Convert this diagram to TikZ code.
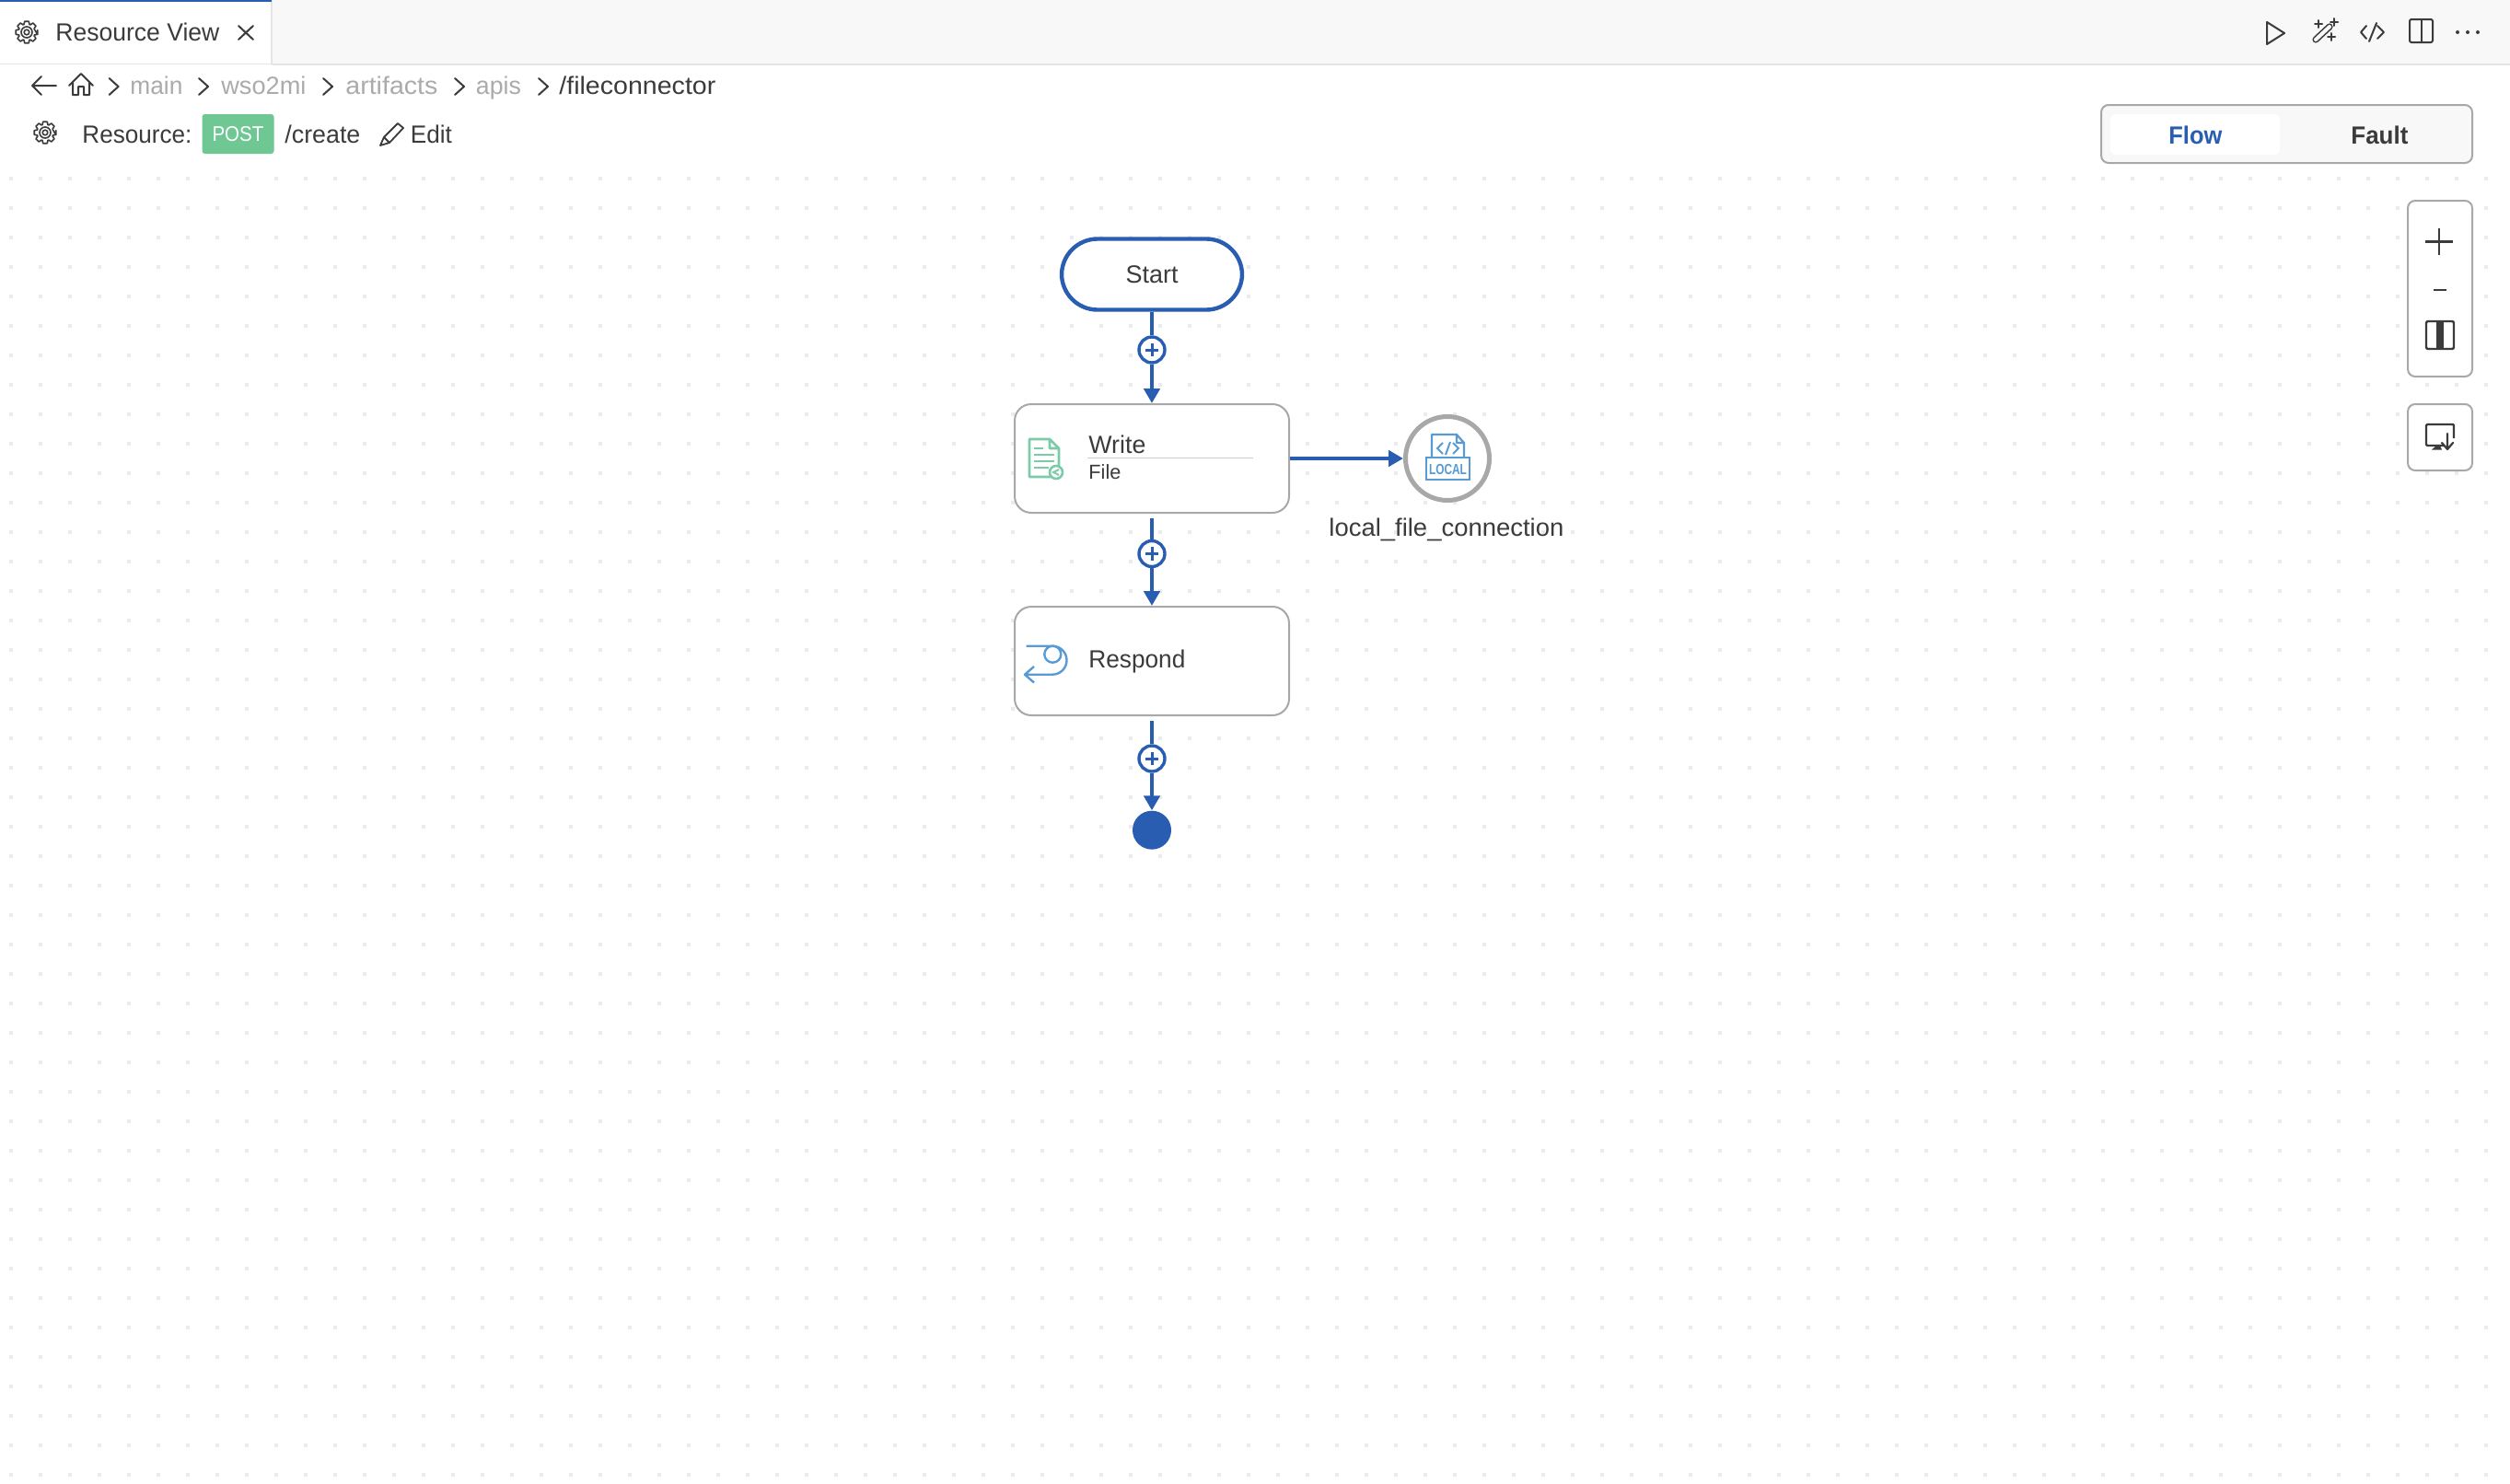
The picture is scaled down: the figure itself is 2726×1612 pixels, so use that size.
\documentclass[tikz,border=0pt]{standalone}
\usepackage{graphicx}
\usepackage{fontspec}
\setmainfont{Liberation Sans}
\usetikzlibrary{arrows.meta}
\definecolor{flowblue}{HTML}{285DB1}
\definecolor{ink}{HTML}{3B3B3B}
\definecolor{dimgrey}{HTML}{ABABAB}
\definecolor{frame}{HTML}{A8A8A8}
\definecolor{barbg}{HTML}{F8F8F8}
\definecolor{barline}{HTML}{E5E5E5}
\definecolor{griddot}{HTML}{E9ECEF}
\definecolor{postgreen}{HTML}{6FC794}
\definecolor{mint}{HTML}{7CCBA8}
\definecolor{skyblue}{HTML}{569BD6}
\newcommand\wtext[3]{\resizebox{\dimexpr#1pt/2\relax}{\height}{\fontsize{#2}{#2}\selectfont #3}}
\newcommand\gearmark[2]{%
  \begin{scope}[shift={(#1,#2)}]
    \draw[line width=.8pt,ink,line join=round] (12:12)
      \foreach \a in {0,45,...,315}{ -- ({\a-11}:12) -- ({\a+11}:12) -- ({\a+19}:9) -- ({\a+26}:9)} -- cycle;
    \draw[line width=.8pt,ink] (0,0) circle (6) (0,0) circle (2.8);
  \end{scope}}
\newcommand\chevronmark[1]{\draw[iconline] (#1-5,85) -- (#1+5,94) -- (#1-5,103);}
\tikzset{
  x=.5pt,y=-.5pt,
  iconline/.style={draw=ink,line width=1pt,line join=round,line cap=round},
  lbl/.style={anchor=base west,inner sep=0pt,text=ink},
  dim/.style={lbl,text=dimgrey},
  stepbox/.style={draw=frame,line width=1pt,fill=white,rounded corners=9pt,minimum width=149pt,minimum height=59pt,inner sep=0pt},
  startbox/.style={draw=flowblue,line width=2.2pt,fill=white,rounded corners=19.5pt,minimum width=98pt,minimum height=38.5pt,inner sep=0pt,text=ink,font=\fontsize{13.5}{13.5}\selectfont},
  addbtn/.style={circle,draw=flowblue,line width=1.7pt,fill=white,minimum size=14pt,inner sep=0pt},
  flowline/.style={draw=flowblue,line width=2.3pt},
  flowarrow/.style={flowline,-{Triangle[length=8pt,width=8.6pt]}},
  panel/.style={draw=frame,line width=1pt,fill=white,rounded corners=4pt},
}
\begin{document}
\begin{tikzpicture}
\useasboundingbox (0,0) rectangle (2726,1612);
\fill[white] (0,0) rectangle (2726,1612);
% grid of dots
\foreach \gy in {194,226,...,1604}{
  \fill[griddot] \foreach \gx in {12,44,...,2716}{ (\gx-2,\gy-2) rectangle (\gx+2,\gy+2) };
}
% tab bar
\fill[barbg] (295,0) rectangle (2726,69);
\draw[barline,line width=1pt] (295,69.5) -- (2726,69.5);
\draw[barline,line width=.4pt] (0,69.5) -- (295,69.5);
\draw[barline,line width=1pt] (295,0) -- (295,69);
\fill[flowblue] (0,0) rectangle (295,2);
\gearmark{29}{35}
\node[lbl] (tabtitle) at (60,44) {\wtext{178}{13.5}{Resource View}};
\draw[iconline] (259,28) -- (275,43) (275,28) -- (259,43);
% toolbar icons
\draw[iconline] (2462,24) -- (2481,36) -- (2462,48) -- cycle;
\draw[ink,line width=3.6pt,line cap=round] (2515,43) -- (2530,29);
\draw[barbg,line width=2pt,line cap=round] (2515,43) -- (2530,29);
\draw[iconline] (2514,26) -- (2522,26) (2518,22) -- (2518,30)
  (2531,24) -- (2539,24) (2535,20) -- (2535,28)
  (2528,40) -- (2536,40) (2532,36) -- (2532,44);
\draw[iconline] (2570,28) -- (2564,35) -- (2570,42) (2581,25) -- (2573,45) (2582,28) -- (2589,35) -- (2582,42);
\draw[iconline,rounded corners=1pt] (2617,21) rectangle (2642,46);
\draw[iconline] (2629.5,21) -- (2629.5,46);
\fill[ink] (2669,35) circle (2) (2680,35) circle (2) (2691,35) circle (2);
% breadcrumb
\draw[iconline] (61,93) -- (35,93) (45,83) -- (35,93) -- (45,103);
\draw[iconline] (75,93) -- (88,80) -- (101,93) (79,90) -- (79,103) -- (85,103) -- (85,94) -- (91,94) -- (91,103) -- (97,103) -- (97,90);
\chevronmark{123.6}
\chevronmark{221}
\chevronmark{356}
\chevronmark{499}
\chevronmark{590}
\node[dim] (crumbmain) at (141,102) {\wtext{57}{13.5}{main}};
\node[dim] (crumbwso) at (240,102) {\wtext{92}{13.5}{wso2mi}};
\node[dim] (crumbart) at (375,102) {\wtext{100}{13.5}{artifacts}};
\node[dim] (crumbapis) at (516.5,102) {\wtext{49}{13.5}{apis}};
\node[lbl] (crumbfile) at (607,102) {\wtext{170}{13.5}{/fileconnector}};
% resource row
\gearmark{49}{144}
\node[lbl] (reslabel) at (89,155.5) {\wtext{119}{13.5}{Resource:}};
\node[fill=postgreen,rounded corners=1.5pt,minimum width=39pt,minimum height=21.5pt,inner sep=0pt,text=white] (postbadge) at (258.5,145.5) {\wtext{56}{11.5}{POST}};
\node[lbl] (respath) at (309,155.5) {\wtext{82}{13.5}{/create}};
\draw[iconline,line width=.9pt] (413,158) -- (417,149) -- (432,134) -- (438,139) -- (423,155) -- cycle (417,149) -- (423,155);
\node[lbl] (resedit) at (445.5,155.5) {\wtext{45}{13.5}{Edit}};
% Flow / Fault toggle
\draw[panel,fill=barbg] (2282,114) rectangle (2685,177);
\node[fill=white,rounded corners=3pt,minimum width=92pt,minimum height=22pt,inner sep=0pt] (flowtab) at (2384,146) {};
\node[lbl,text=flowblue] (flowtext) at (2355,156) {\wtext{58}{13.5}{\bfseries Flow}};
\node[lbl] (faulttext) at (2553,156) {\wtext{62}{13.5}{\bfseries Fault}};
% zoom controls
\draw[panel] (2615,218) rectangle (2685,409);
\draw[ink,line width=1.3pt] (2634,262.5) -- (2664,262.5) (2649,248) -- (2649,277);
\draw[ink,line width=1.3pt] (2643,315) -- (2657,315);
\draw[ink,line width=1.2pt,rounded corners=1pt] (2635,349) rectangle (2665,379);
\fill[ink] (2646,349) rectangle (2654,379);
\draw[panel] (2615,439) rectangle (2685,511);
\draw[ink,line width=1.2pt,rounded corners=.6pt] (2654,484) -- (2635,484) -- (2635,461) -- (2665,461) -- (2665,476);
\fill[ink] (2641,488.5) -- (2646,484) -- (2650,484) -- (2652,488.5) -- cycle;
\draw[ink,line width=1.1pt,line cap=round,line join=round] (2658,471) -- (2658,488) (2652,481) -- (2658,488) -- (2664,481);
% flow nodes
\node[startbox] (start) at (1251,298) {Start};
\node[addbtn] (addone) at (1251,380) {};
\node[stepbox] (write) at (1251,498) {};
\node[addbtn] (addtwo) at (1251,601.5) {};
\node[stepbox] (respond) at (1251,718) {};
\node[addbtn] (addthree) at (1251,824) {};
\node[circle,fill=flowblue,minimum size=21pt,inner sep=0pt] (finish) at (1251,901.7) {};
\node[circle,draw=frame,line width=2.5pt,fill=white,minimum size=45.5pt,inner sep=0pt] (conn) at (1572,498) {};
% connectors
\draw[flowline] (start) -- (addone);
\draw[flowarrow] (addone) -- (write);
\draw[flowline,shorten <=2.5pt] (write) -- (addtwo);
\draw[flowarrow] (addtwo) -- (respond);
\draw[flowline,shorten <=2.5pt] (respond) -- (addthree);
\draw[flowarrow] (addthree) -- (finish);
\draw[flowarrow] (write) -- (conn);
% plus signs
\foreach \n in {addone,addtwo,addthree}{
  \draw[flowblue,line width=1.5pt] ([xshift=-3.6pt]\n.center) -- ([xshift=3.6pt]\n.center) ([yshift=-3.6pt]\n.center) -- ([yshift=3.6pt]\n.center);
}
% write node contents
\node[lbl] (writetitle) at (1182,492.7) {\wtext{62}{13.5}{Write}};
\node[lbl] (writesub) at (1182,520) {\wtext{35}{11}{File}};
\draw[draw=black!20,line width=.7pt] (1181,497.7) -- (1361,497.7);
\draw[mint,line width=1.3pt,line join=round] (1140,477) -- (1118,477) -- (1118,518) -- (1142,518) (1150,507) -- (1150,487) -- (1140,477) -- (1140,487) -- (1150,487);
\draw[mint,line width=1.3pt] (1123,487) -- (1133,487) (1123,494) -- (1145,494) (1123,501) -- (1145,501) (1123,508) -- (1139,508);
\draw[mint,line width=1.3pt,fill=white] (1147,513) circle (7);
\draw[mint,line width=1pt] (1150,510) -- (1144,513) -- (1150,516);
% respond node contents
\node[lbl] (respondtitle) at (1182,725) {\wtext{105}{13.5}{Respond}};
\draw[skyblue,line width=1.2pt,line join=round] (1114.7,701.7) -- (1143,701.7) arc (-90:90:15.5) -- (1113,732.7) (1123,724) -- (1113,732.7) -- (1123,741.5);
\draw[skyblue,line width=1.2pt] (1143.3,710.7) circle (9);
% connection icon
\draw[skyblue,line width=1.1pt,line join=round] (1555,497) -- (1555,472) -- (1582,472) -- (1590,481) -- (1590,497) (1582,472) -- (1582,481) -- (1590,481);
\draw[skyblue,line width=1.1pt,fill=white] (1549,497) rectangle (1596,521);
\draw[skyblue,line width=1pt] (1567,481) -- (1561,487) -- (1567,493) (1575,480) -- (1570,494) (1578,481) -- (1584,487) -- (1578,493);
\node[anchor=base,inner sep=0pt,text=skyblue] (localtag) at (1572.5,515) {\wtext{41}{8}{\bfseries LOCAL}};
\node[lbl] (connlabel) at (1443,582.7) {\wtext{255}{13.5}{local\_file\_connection}};
\end{tikzpicture}
\end{document}
